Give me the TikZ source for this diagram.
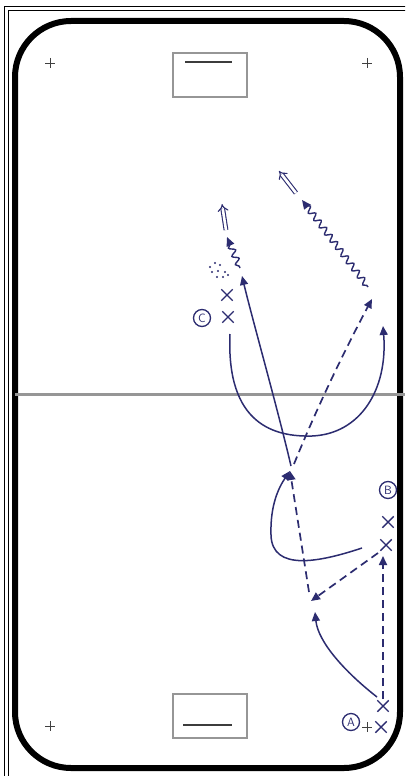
\documentclass[tikz,border=0pt]{standalone}
\usetikzlibrary{arrows.meta,decorations.pathmorphing,shapes.misc}
\definecolor{ink}{RGB}{44,44,112}
\definecolor{goalgray}{RGB}{150,150,150}
\definecolor{goalline}{RGB}{60,60,60}
\begin{document}
\begin{tikzpicture}[x=1pt,y=-1pt,
  player/.style={cross out,draw=ink,line width=1.4pt,minimum size=10pt,inner sep=0pt},
  lbl/.style={circle,draw=ink,line width=1.3pt,text=ink,inner sep=0.5pt,minimum size=17pt,font=\sffamily\large},
  tipf/.style={-{Triangle[length=9pt,width=8pt]}},
  skate/.style={draw=ink,line width=1.5pt,tipf},
  pass/.style={draw=ink,line width=1.7pt,dash pattern=on 8pt off 5pt,tipf},
  puckrun/.style={draw=ink,line width=1.4pt,tipf,decorate,decoration={snake,amplitude=3pt,segment length=9pt,pre length=2pt,post length=7pt}},
  shot/.style={draw=ink,line width=1.1pt,double=white,double distance=2.6pt,-{Implies[length=6pt]}},
  dot/.style={fill=ink,draw=none},
  plusmark/.style={draw=black!75,line width=0.8pt},
  goalbox/.style={draw=goalgray,line width=2.5pt},
  goalbar/.style={draw=goalline,line width=2pt}
]
\useasboundingbox (0,0) rectangle (405,776);
\clip (0,0) rectangle (405,776);
\fill[white] (0,0) rectangle (405,776);
% outer frame
\draw[line width=1pt] (4,7) rectangle (420,800);
\draw[line width=1pt] (8,11) rectangle (416,796);
% rink
\draw[line width=6pt,rounded corners=56pt] (15,21) rectangle (400,768);
% centre line
\draw[draw=goalgray,line width=3pt] (15,394) -- (405,394);
% goals
\draw[goalbox] (173,53) rectangle (247,97);
\draw[goalbar] (185,62) -- (232,62);
\draw[goalbox] (173,694) rectangle (247,738);
\draw[goalbar] (183,725) -- (232,725);
% plus marks
\foreach \px/\py in {50/63,367/63,50/726,367/727}{
  \draw[plusmark] (\px-5,\py) -- (\px+5,\py) (\px,\py-5) -- (\px,\py+5);
}
% players
\node[player] (A1) at (383,706) {};
\node[player] (A2) at (381,727) {};
\node[lbl] (Alab) at (351,722) {A};
\node[player] (B1) at (388,522) {};
\node[player] (B2) at (386,545) {};
\node[lbl] (Blab) at (388,490) {B};
\node[player] (C1) at (227,295) {};
\node[player] (C2) at (228,317) {};
\node[lbl] (Clab) at (202,318) {C};
% pucks
\foreach \dx/\dy in {210/267,215/263,220/265,212/272,218/271,225/272,217/277,223/277,228/275}{
  \fill[dot] (\dx,\dy) circle (1.1pt);
}
% path coordinates
\coordinate (aS) at (377,697);
\coordinate (aE) at (315,612);
\coordinate (aP1) at (383,699);
\coordinate (aP2) at (383,556);
\coordinate (bP1) at (378,553);
\coordinate (bP2) at (311,601);
\coordinate (jP1) at (309,592);
\coordinate (J) at (290,471);
\coordinate (bS) at (362,548);
\coordinate (J2) at (291,466);
\coordinate (cE) at (242,276);
\coordinate (w1S) at (240,268);
\coordinate (w1E) at (227,237);
\coordinate (s1S) at (226,230);
\coordinate (s1E) at (222,204);
\coordinate (dS) at (294,464);
\coordinate (dE) at (372,299);
\coordinate (cS) at (230,334);
\coordinate (cE2) at (383,326);
\coordinate (w2S) at (368,287);
\coordinate (w2E) at (302,200);
\coordinate (s2S) at (296,193);
\coordinate (s2E) at (279,171);
% A
\draw[skate] (aS) .. controls (345,672) and (318,642) .. (aE);
\draw[pass] (aP1) -- (aP2);
% B
\draw[pass] (bP1) -- (bP2);
\draw[pass] (jP1) -- (J);
\draw[skate] (bS) .. controls (320,562) and (272,572) .. (271,535) .. controls (270,505) and (279,487) .. (J);
% up the ice
\draw[skate] (J2) .. controls (278,410) and (252,318) .. (cE);
\draw[puckrun] (w1S) -- (w1E);
\draw[shot] (s1S) -- (s1E);
\draw[pass] (dS) .. controls (320,400) and (350,340) .. (dE);
% C
\draw[skate] (cS) .. controls (226,425) and (275,437) .. (312,436) .. controls (360,434) and (388,390) .. (cE2);
\draw[puckrun] (w2S) -- (w2E);
\draw[shot] (s2S) -- (s2E);
\end{tikzpicture}
\end{document}
